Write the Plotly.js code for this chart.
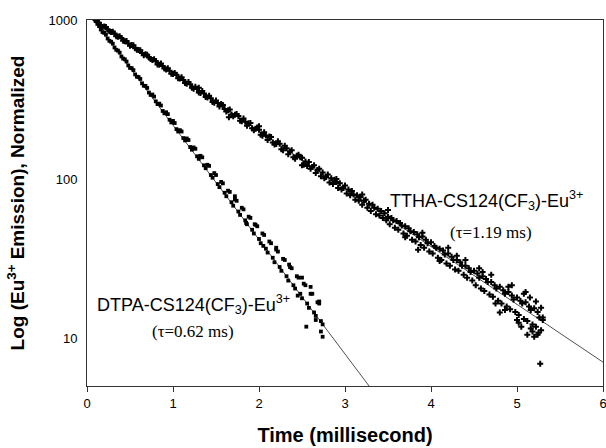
<!DOCTYPE html>
<html>
<head>
<meta charset="utf-8">
<script src="https://cdn.plot.ly/plotly-3.0.1.min.js"></script>
<style>html,body{margin:0;padding:0;background:#fff;}#chart{width:606px;height:448px;}</style>
</head>
<body>
<div id="chart"></div>
<script>
// TTHA-CS124(CF3)-Eu3+ emission decay (time in ms, normalized intensity)
const ttha_x = [0.10,0.12,0.14,0.16,0.18,0.20,0.22,0.24,0.26,0.28,0.30,0.32,0.34,0.36,0.38,0.40,0.42,0.44,0.46,0.48,
0.50,0.52,0.54,0.56,0.58,0.60,0.62,0.64,0.66,0.68,0.70,0.72,0.74,0.76,0.78,0.80,0.82,0.84,0.86,0.88,
0.90,0.92,0.94,0.96,0.98,1.00,1.02,1.04,1.06,1.08,1.10,1.12,1.14,1.16,1.18,1.20,1.22,1.24,1.26,1.28,
1.30,1.32,1.34,1.36,1.38,1.40,1.42,1.44,1.46,1.48,1.50,1.52,1.54,1.56,1.58,1.60,1.62,1.64,1.66,1.68,
1.70,1.72,1.74,1.76,1.78,1.80,1.82,1.84,1.86,1.88,1.90,1.92,1.94,1.96,1.98,2.00,2.02,2.04,2.06,2.08,
2.10,2.12,2.14,2.16,2.18,2.20,2.22,2.24,2.26,2.28,2.30,2.32,2.34,2.36,2.38,2.40,2.42,2.44,2.46,2.48,
2.50,2.52,2.54,2.56,2.58,2.60,2.62,2.64,2.66,2.68,2.70,2.72,2.74,2.76,2.78,2.80,2.82,2.84,2.86,2.88,
2.90,2.92,2.94,2.96,2.98,3.00,3.02,3.04,3.06,3.08,3.10,3.12,3.14,3.16,3.18,3.20,3.22,3.24,3.26,3.28,
3.30,3.32,3.34,3.36,3.38,3.40,3.42,3.44,3.46,3.48,3.50,3.52,3.54,3.56,3.58,3.60,3.62,3.64,3.66,3.68,
3.70,3.72,3.74,3.76,3.78,3.80,3.82,3.84,3.86,3.88,3.90,3.92,3.94,3.96,3.98,4.00,4.02,4.04,4.06,4.08,
4.10,4.12,4.14,4.16,4.18,4.20,4.22,4.24,4.26,4.28,4.30,4.32,4.34,4.36,4.38,4.40,4.42,4.44,4.46,4.48,
4.50,4.52,4.54,4.56,4.58,4.60,4.62,4.64,4.66,4.68,4.70,4.72,4.74,4.76,4.78,4.80,4.82,4.84,4.86,4.88,
4.90,4.92,4.94,4.96,4.98,5.00,5.02,5.04,5.06,5.08,5.10,5.12,5.14,5.16,5.18,5.20,5.22,5.24,5.26,5.28,
5.30];
const ttha_y = [995,970,960,930,905,910,905,872,850,840,845,822,790,786,790,770,740,735,738,712,
690,697,695,664,650,648,645,620,600,608,605,582,568,560,566,552,525,524,532,514,
495,488,498,480,460,458,465,452,430,428,436,420,402,398,408,394,375,370,380,368,
350,347,358,345,328,326,334,322,305,302,312,301,286,296,292,276,266,271,274,255,
248,254,256,249,233,231,240,229,216,224,225,209,203,207,211,204,190,187,197,188,
176,185,184,170,165,166,173,167,154,152,162,156,143,149,152,137,134,140,142,137,
136,123,129,121,128,116,119,122,109,114,116,104,110,101,103,107,95,101,93,99,
96,88,94,86,88,91,81,86,79,84,80,74,79,73,77,69,73,74,66,70,
63,69,66,60,65,59,63,57,61,55,58,52,57,55,49.5,54.5,48,53,51,45.5,
50.5,44,49,47,41.5,46.5,40.5,45,43,38.5,43.5,37,41.5,39.5,35,40,34,38,37,32,
36.5,31,35.5,33.5,29.5,34,28.5,32.5,31,27,31,26.5,30,28.5,25,28.5,24,27.5,26,23,
26.5,21.5,25.5,24,20.5,24.5,19.8,23.5,22.5,18.8,22.5,18.2,21.5,20.5,17.2,21,16.5,20,19,15.8,
19.5,15.2,18.5,17.5,14.6,18,14,17.2,16.5,13.2,16.8,12.8,15.8,15,12.2,15.4,11.8,14.6,13.5,11.2,
13];
const ttha_extra_x = [1.30,1.65,2.00,2.50,2.90,3.20,3.50,3.70,3.85,3.90,4.10,4.20,4.30,4.40,4.56,4.60,4.70,4.75,4.80,4.86,4.90,4.94,5.00,5.02,5.05,5.08,5.10,5.12,5.15,5.16,5.18,5.20,5.22,5.24,5.25,5.27,5.28,5.30];
const ttha_extra_y = [375,245,215,122,100,80,64,43,36,46,30.5,37,33,31,27.5,26,25,16.5,14.5,15,21,21.5,13,12.5,11.8,19,19.5,10.5,18,11.5,11,10.2,17,10.5,10.8,6.9,15.5,13.5];

// DTPA-CS124(CF3)-Eu3+ emission decay
const dtpa_x = [0.10,0.12,0.14,0.16,0.18,0.20,0.22,0.24,0.26,0.28,0.30,0.32,0.34,0.36,0.38,0.40,0.42,0.44,0.46,0.48,
0.50,0.52,0.54,0.56,0.58,0.60,0.62,0.64,0.66,0.68,0.70,0.72,0.74,0.76,0.78,0.80,0.82,0.84,0.86,0.88,
0.90,0.92,0.94,0.96,0.98,1.00,1.02,1.04,1.06,1.08,1.10,1.12,1.14,1.16,1.18,1.20,1.22,1.24,1.26,1.28,
1.30,1.32,1.34,1.36,1.38,1.40,1.42,1.44,1.46,1.48,1.50,1.52,1.54,1.56,1.58,1.60,1.62,1.64,1.66,1.68,
1.70,1.72,1.74,1.76,1.78,1.80,1.82,1.84,1.86,1.88,1.90,1.92,1.94,1.96,1.98,2.00,2.02,2.04,2.06,2.08,
2.10,2.12,2.14,2.16,2.18,2.20,2.22,2.24,2.26,2.28,2.30,2.32,2.34,2.36,2.38,2.40,2.42,2.44,2.46,2.48,
2.50,2.52,2.54,2.56,2.58,2.60,2.62,2.64,2.66,2.68,2.70,2.72,2.74];
const dtpa_y = [985,945,915,872,840,830,808,765,740,730,710,672,650,642,624,590,572,566,548,518,
500,498,484,455,440,438,426,400,386,385,374,350,338,340,330,308,296,298,290,268,
259,263,256,236,227,232,225,206,199,203,199,181,175,180,176,159,153,158,155,139,
134,140,137,122,117,123,121,106,102,109,106,93,89,96,94,82,78,84.5,83,71.5,
68,74.5,73,62.5,59.5,66,64.5,55,52,58,57,48,45.5,51.5,50.5,42,39.5,45.5,44.5,36.5,
34.5,40.5,39.5,32,30,36,35,28,26.5,31.5,31,24.5,23,28,27.5,21.5,20.5,24.5,24,19,
17.8,22,21.5,16.5,15.5,19,19,14.5,13.8,16.8,16.5,12.8,12.2];
const dtpa_extra_x = [1.72,1.85,1.95,2.05,2.20,2.35,2.45,2.50,2.55,2.60,2.66,2.70,2.72,2.74];
const dtpa_extra_y = [78,53,52,38,37,29,18.5,24,11.8,21,13,17,11,10.2];

// Single-exponential fits (tau = 0.62 ms and 1.19 ms)
const dtpa_fit_x = [0.08, 3.28];
const dtpa_fit_y = [1000, 5];
const ttha_fit_x = [0.08, 6.0];
const ttha_fit_y = [1000, 7.06];

const xTicks = [0,1,2,3,4,5,6];
const yTicks = [10,100,1000];
const yTickText = ['10','100','1000'];

const sans = 'Liberation Sans, Arial, sans-serif';
const serif = 'Liberation Serif, Times New Roman, serif';

const traces = [
  {x: dtpa_fit_x, y: dtpa_fit_y, mode:'lines', line:{color:'#222', width:0.8}},
  {x: ttha_fit_x, y: ttha_fit_y, mode:'lines', line:{color:'#222', width:0.8}},
  {x: dtpa_x.concat(dtpa_extra_x), y: dtpa_y.concat(dtpa_extra_y), mode:'markers',
   marker:{symbol:'square', size:3.8, color:'#000'}},
  {x: ttha_x.concat(ttha_extra_x), y: ttha_y.concat(ttha_extra_y), mode:'markers',
   marker:{symbol:'cross', size:5, color:'#000'}}
];

const layout = {
  width:606, height:448,
  margin:{l:87, r:3, t:20, b:62},
  paper_bgcolor:'#fff', plot_bgcolor:'#fff',
  showlegend:false, hovermode:false,
  font:{family:sans, color:'#000'},
  xaxis:{
    range:[0,6], tickvals:xTicks, ticks:'outside', ticklen:5, tickcolor:'#333',
    ticklabeloverflow:'allow',
    showline:true, mirror:true, linecolor:'#333', linewidth:1,
    showgrid:false, zeroline:false,
    tickfont:{family:sans, size:13, color:'#000'},
    title:{text:'Time (millisecond)', font:{family:sans, size:20, weight:'bold', color:'#000'}, standoff:18}
  },
  yaxis:{
    type:'log', range:[Math.log10(5), 3], tickvals:yTicks, ticktext:yTickText, ticks:'',
    ticklabelstandoff:6,
    showline:true, mirror:true, linecolor:'#333', linewidth:1,
    showgrid:false, zeroline:false,
    tickfont:{family:sans, size:13, color:'#000'},
    title:{text:'Log (Eu<sup>3+</sup> Emission), Normalized', font:{family:sans, size:19, weight:'bold', color:'#000'}, standoff:18}
  },
  annotations:[
    {xref:'paper', yref:'paper', x:0.775, y:0.508, xanchor:'center', yanchor:'middle',
     text:'TTHA-CS124(CF<sub>3</sub>)-Eu<sup>3+</sup>',
     showarrow:false, font:{family:sans, size:18, color:'#000'}},
    {xref:'paper', yref:'paper', x:0.783, y:0.420, xanchor:'center', yanchor:'middle',
     text:'(τ=1.19 ms)',
     showarrow:false, font:{family:serif, size:17, color:'#000'}},
    {xref:'paper', yref:'paper', x:0.206, y:0.222, xanchor:'center', yanchor:'middle',
     text:'DTPA-CS124(CF<sub>3</sub>)-Eu<sup>3+</sup>',
     showarrow:false, font:{family:sans, size:18, color:'#000'}},
    {xref:'paper', yref:'paper', x:0.205, y:0.148, xanchor:'center', yanchor:'middle',
     text:'(τ=0.62 ms)',
     showarrow:false, font:{family:serif, size:17, color:'#000'}}
  ]
};

Plotly.newPlot('chart', traces, layout, {staticPlot:true, displayModeBar:false});
</script>
</body>
</html>
